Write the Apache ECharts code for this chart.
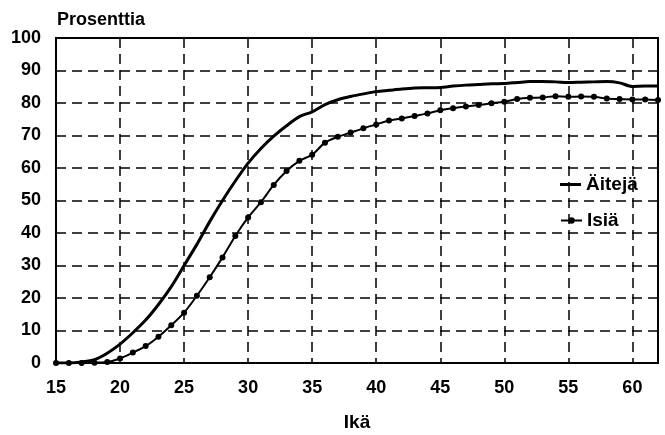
<!DOCTYPE html>
<html><head><meta charset="utf-8">
<script src="https://cdn.jsdelivr.net/npm/echarts@6/dist/echarts.min.js"></script>
<style>html,body{margin:0;padding:0;background:#fff}#c{width:665px;height:435px}</style>
</head><body><div id="c"></div>
<script>
const ages = [15,16,17,18,19,20,21,22,23,24,25,26,27,28,29,30,31,32,33,34,35,36,37,38,39,40,41,42,43,44,45,46,47,48,49,50,51,52,53,54,55,56,57,58,59,60,61,62];
const aiteja = [0,0,0.3,1,3,5.8,9.3,13.2,18,23.5,30,36.5,43.5,50,56,61.5,66,69.8,73,75.8,77.3,79.5,81,82,82.8,83.5,83.9,84.3,84.6,84.7,84.8,85.2,85.5,85.7,85.9,86,86.3,86.6,86.6,86.5,86.3,86.4,86.5,86.6,86.2,85.1,85.2,85.2];
const isia = [0,0,0,0.1,0.3,1.4,3.2,5.2,8.1,11.6,15.5,20.7,26.4,32.5,39.1,44.8,49.5,54.8,59.1,62.2,64.1,67.8,69.6,70.9,72.2,73.4,74.6,75.2,76,76.8,77.8,78.4,78.9,79.4,79.9,80.4,81.2,81.6,81.7,82.1,81.9,82,81.9,81.4,81.2,81.1,81.1,80.9];
const seriesNames = ['Äitejä','Isiä'];

const font = "'Liberation Sans',Arial,sans-serif";
const chart = echarts.init(document.getElementById('c'));
const dash = [10,6];
const legendText = {fontFamily:font,fontWeight:'bold',fontSize:19,color:'#000'};
chart.setOption({
  animation:false,
  grid:{left:56,right:7,top:38,bottom:72,show:true,borderColor:'#000',borderWidth:2,backgroundColor:'transparent',
        containLabel:false,outerBoundsMode:'none'},
  legend:[
    {data:[seriesNames[0]], left:560, top:175, icon:'rect', itemWidth:21, itemHeight:3, itemGap:3,
     padding:0, textStyle:legendText},
    {data:[seriesNames[1]], left:560, top:211, itemWidth:21, itemHeight:8, itemGap:3,
     padding:0, textStyle:legendText}
  ],
  xAxis:{
    type:'value',min:15,max:62,interval:5,
    name:'Ikä',nameLocation:'middle',nameGap:50,
    nameTextStyle:{fontFamily:font,fontWeight:'bold',fontSize:19,color:'#000'},
    axisLine:{lineStyle:{color:'#000',width:2}},
    axisTick:{show:false},
    axisLabel:{fontFamily:font,fontWeight:'bold',fontSize:18,color:'#000',margin:16,
      formatter:v=> (v%5===0 && v<=60)? String(v):''},
    splitLine:{show:true,lineStyle:{color:'#000',width:1.5,type:dash}}
  },
  yAxis:{
    type:'value',min:0,max:100,interval:10,
    name:'Prosenttia',nameLocation:'end',nameGap:9,
    nameTextStyle:{fontFamily:font,fontWeight:'bold',fontSize:18,color:'#000',align:'left',padding:[0,0,0,1]},
    axisLine:{show:true,lineStyle:{color:'#000',width:2}},
    axisTick:{show:false},
    axisLabel:{fontFamily:font,fontWeight:'bold',fontSize:18,color:'#000',margin:15},
    splitLine:{show:true,lineStyle:{color:'#000',width:1.5,type:dash}}
  },
  series:[
    {name:seriesNames[0],type:'line',data:ages.map((a,i)=>[a,aiteja[i]]),
     showSymbol:false,symbol:'none',smooth:0.3,
     lineStyle:{color:'#000',width:3},itemStyle:{color:'#000'}},
    {name:seriesNames[1],type:'line',data:ages.map((a,i)=>[a,isia[i]]),
     symbol:'circle',symbolSize:6,smooth:0.3,
     lineStyle:{color:'#000',width:2},itemStyle:{color:'#000'}}
  ]
});
</script></body></html>
